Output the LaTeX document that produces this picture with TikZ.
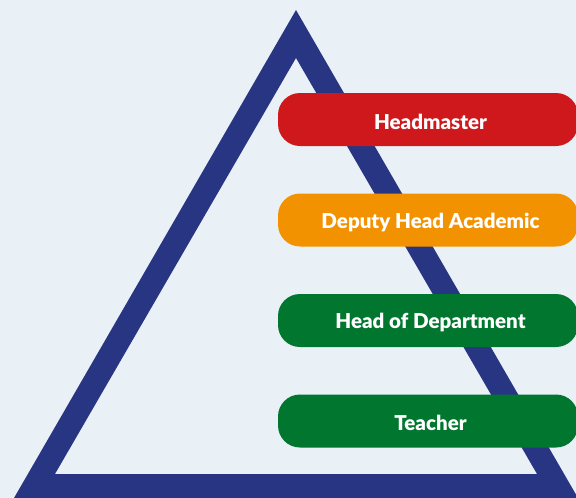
\documentclass[tikz,border=0pt]{standalone}
\usepackage{fontspec}
\setmainfont{Lato}
\newfontfamily\pyrfont{Lato Black}
\usepackage{tikz}
\usetikzlibrary{positioning}
\definecolor{pyrblue}{HTML}{283583}
\definecolor{pyrbg}{HTML}{E9F1F6}
\definecolor{pyrred}{HTML}{CF181C}
\definecolor{pyrorange}{HTML}{F39200}
\definecolor{pyrgreen}{HTML}{00762E}
\tikzset{pill/.style={rectangle, rounded corners=22pt, minimum width=300pt, minimum height=53pt,
    fill=#1, inner sep=0pt},
    pilltext/.style={text=white, font=\fontsize{20.5}{24}\selectfont\pyrfont}}

\begin{document}
\begin{tikzpicture}[x=1pt,y=-1pt]
            \fill[pyrbg] (0,0) rectangle (576,498);
            \useasboundingbox (0,0) rectangle (576,498);
            \clip (0,0) rectangle (576,498);

            % the triangle
            \fill[pyrblue, even odd rule] (296,10) -- (14,498) -- (578,498) -- cycle
                (296,58) -- (55,474) -- (537,474) -- cycle;

            \node[pill=pyrred] (head) at (428,119.5) {};
            \node[pill=pyrorange] (deputy) at (428,220) {};
            \node[pill=pyrgreen] (hod) at (428,320.5) {};
            \node[pill=pyrgreen] (teacher) at (428,421) {};

            \node[pilltext] at ([xshift=2.5pt,yshift=-2pt]head.center) {Headmaster};
            \node[pilltext] at ([xshift=2.5pt,yshift=-2pt]deputy.center) {Deputy Head Academic};
            \node[pilltext] at ([xshift=2.5pt,yshift=-2pt]hod.center) {Head of Department};
            \node[pilltext] at ([xshift=2.5pt,yshift=-2pt]teacher.center) {Teacher};

        \end{tikzpicture}
\end{document}
